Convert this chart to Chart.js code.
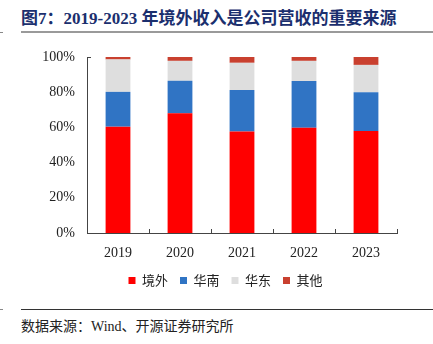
<!DOCTYPE html>
<html><head><meta charset="utf-8">
<script src="https://cdn.jsdelivr.net/npm/chart.js@4"></script>
<style>
html,body{margin:0;padding:0;background:#fff;}
body{width:433px;height:344px;position:relative;overflow:hidden;}
#title{position:absolute;left:21px;top:4px;font:bold 17px "Liberation Serif","Noto Sans CJK SC",serif;color:#1B2F6E;white-space:nowrap;}
#tline{position:absolute;left:21px;top:31px;width:412px;height:2px;background:#9a9a9a;}
#tdash{position:absolute;left:0;top:32px;width:3px;height:1px;background:#888;}
#wrap{position:absolute;left:0;top:40px;width:433px;height:260px;}
#fline{position:absolute;left:21px;top:309px;width:412px;height:1px;background:#333;}
#fdash{position:absolute;left:0;top:309px;width:3px;height:1px;background:#888;}
#foot{position:absolute;left:21px;top:315px;font:14px "Liberation Serif","Noto Sans CJK SC",serif;color:#222;white-space:nowrap;}
</style></head>
<body>
<div id="title">图7：2019-2023 年境外收入是公司营收的重要来源</div>
<div id="tline"></div><div id="tdash"></div>
<div id="wrap"><canvas id="c"></canvas></div>
<div id="fline"></div><div id="fdash"></div>
<div id="foot">数据来源：Wind、开源证券研究所</div>
<script>
const categories = ['2019','2020','2021','2022','2023'];
const overseas = [60.4, 68.0, 57.6, 59.8, 58.0];
const southChina = [19.8, 18.5, 23.6, 26.5, 22.0];
const eastChina = [18.4, 11.3, 15.5, 11.5, 15.5];
const others = [1.4, 2.2, 3.3, 2.2, 4.5];
const seriesNames = ['境外','华南','华东','其他'];
const yTicks = [0,20,40,60,80,100];

const innerTicks = {
  id:'innerTicks',
  afterLayout(chart){
    const lg = chart.legend;
    if(lg){ lg.left += 27; lg.right += 27; }
  },
  afterDraw(chart){
    const xs = chart.scales.x, ctx = chart.ctx;
    const n = xs.ticks.length;
    const step = (xs.right - xs.left)/n;
    ctx.save();
    ctx.strokeStyle = '#444'; ctx.lineWidth = 1;
    ctx.beginPath();
    for(let i=1;i<=n;i++){
      const x = Math.round(xs.left + i*step)+0.5;
      ctx.moveTo(x, xs.top); ctx.lineTo(x, xs.top-4);
    }
    const ys = chart.scales.y;
    const yt = Math.round(ys.getPixelForValue(100))+0.5;
    ctx.moveTo(ys.right, yt); ctx.lineTo(ys.right+4, yt);
    ctx.stroke();
    ctx.restore();
  }
};

const colors = ['#FF0000','#3074C4','#DEDEDE','#C9402F'];
const data = [overseas, southChina, eastChina, others];
new Chart(document.getElementById('c'), {
  type:'bar',
  data:{
    labels: categories,
    datasets: seriesNames.map((n,i)=>({label:n, data:data[i], backgroundColor:colors[i], borderWidth:0,
      categoryPercentage:1, barPercentage:0.4}))
  },
  options:{
    responsive:true, maintainAspectRatio:false, animation:false,
    layout:{padding:{left:0,right:36,top:17,bottom:3}},
    plugins:{
      legend:{position:'bottom', labels:{boxWidth:7, boxHeight:7, padding:12, color:'#222',
        font:{family:'"Noto Sans CJK SC"', size:13}}},
      tooltip:{enabled:false}
    },
    scales:{
      x:{stacked:true, grid:{display:false, drawTicks:false}, border:{color:'#444'},
        ticks:{color:'#222', padding:12, font:{family:'"Liberation Serif"', size:14}},
        afterFit(s){ s.height = 29; s.paddingLeft = 0; s.paddingRight = 0; }},
      y:{stacked:true, min:0, max:100, grid:{display:false, drawTicks:false}, border:{color:'#444'},
        ticks:{stepSize:20, padding:12, color:'#222', font:{family:'"Liberation Serif"', size:14},
          callback:v=> yTicks.includes(v) ? v+'%' : ''},
        afterFit(s){ s.width = 87; s.paddingTop = 0; s.paddingBottom = 0; }}
    }
  },
  plugins:[innerTicks]
});
</script>
</body></html>
